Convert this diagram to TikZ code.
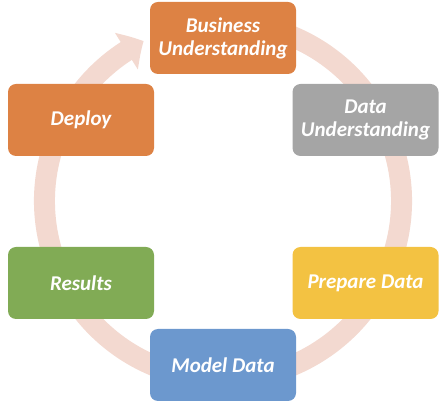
\documentclass[tikz,border=0pt]{standalone}
\usepackage{fontspec}
\setmainfont{Carlito}
\usetikzlibrary{arrows.meta,bending}
\definecolor{cOrange}{RGB}{221,130,68}
\definecolor{cGray}{RGB}{165,165,165}
\definecolor{cYellow}{RGB}{243,194,66}
\definecolor{cBlue}{RGB}{108,152,206}
\definecolor{cGreen}{RGB}{129,171,85}
\definecolor{cRing}{RGB}{243,217,208}
\tikzset{
  phase/.style={rectangle, rounded corners=8pt, minimum width=146pt, minimum height=72pt,
    inner sep=0pt, text=white, align=center,
    font=\fontsize{21}{23}\selectfont\bfseries\itshape},
  ring/.style={draw=cRing, line width=21pt}
}
\begin{document}
\begin{tikzpicture}[x=1pt,y=1pt]
\useasboundingbox (0,0) rectangle (447,404);
\coordinate (c) at (223,203);
\draw[ring, -{Triangle[width=42pt,length=20pt,bend]}] ([shift={(70:178.5)}]c) arc[start angle=70, end angle=-243.6, radius=178.5];
\node[phase, fill=cOrange] (bus) at (223,366) {Business\\Understanding};
\node[phase, fill=cGray] (dat) at (365.5,284) {Data\\Understanding};
\node[phase, fill=cYellow] (prep) at (365.5,121) {Prepare Data};
\node[phase, fill=cBlue] (model) at (223,39) {Model Data};
\node[phase, fill=cGreen] (res) at (81,121) {Results};
\node[phase, fill=cOrange] (dep) at (81,284) {Deploy};
\end{tikzpicture}
\end{document}
